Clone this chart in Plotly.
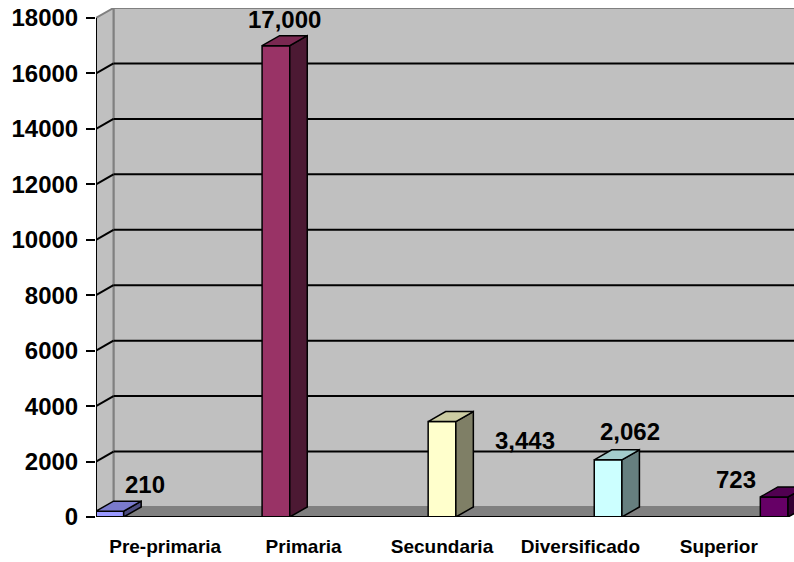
import plotly.graph_objects as go

# ---------------- data ----------------
CATEGORIES = ["Pre-primaria", "Primaria", "Secundaria", "Diversificado", "Superior"]
VALUES = [210, 17000, 3443, 2062, 723]
VALUE_LABELS = ["210", "17,000", "3,443", "2,062", "723"]
Y_TICKS = [0, 2000, 4000, 6000, 8000, 10000, 12000, 14000, 16000, 18000]

# ---------------- styles / layout ----------------
FRONT_COLORS = ["#9999FF", "#993366", "#FFFFCC", "#CCFFFF", "#660066"]
# label offsets (px) relative to the front-top centre of each bar
LABEL_SHIFTS = [(35, 27), (9, 26), (83, -19), (22, 28), (-38, 17)]

W, H = 794, 562
ML, MR, MT, MB = 96, 0, 8, 45
CAT_PX = 138.4          # pixel width of one category
DEPTH_PX = (17.5, 10)   # 3-D depth offset (right, up) in px
FONT = "Liberation Sans, Arial, sans-serif"


def shade(hex_color, f):
    h = hex_color.lstrip("#")
    r, g, b = (int(h[i:i + 2], 16) for i in (0, 2, 4))
    return "#%02X%02X%02X" % (int(r * f), int(g * f), int(b * f))


plot_w = W - ML - MR
plot_h = H - MT - MB
y_top = max(Y_TICKS)
y_range_max = y_top * plot_h / (plot_h - DEPTH_PX[1])
ux = 1.0 / CAT_PX
uy = y_range_max / plot_h
DX = DEPTH_PX[0] * ux
DY = DEPTH_PX[1] * uy
x_min = -0.5
x_max = x_min + plot_w * ux
n = len(CATEGORIES)
slot = 1.0 / n
x_front_end = n - 0.5

fig = go.Figure()

# bar geometry derived from data
lefts = [i - 0.5 + i * slot for i in range(n)]
centers = [l + slot / 2 for l in lefts]

# front faces
fig.add_trace(go.Bar(
    x=centers, y=VALUES, width=slot,
    marker=dict(color=FRONT_COLORS, line=dict(color="black", width=1.5)),
    hoverinfo="skip", showlegend=False,
))

# top and side faces
for i, v in enumerate(VALUES):
    xl, xr = lefts[i], lefts[i] + slot
    c = FRONT_COLORS[i]
    fig.add_trace(go.Scatter(
        x=[xr, xr, xr + DX, xr + DX, xr], y=[0, v, v + DY, DY, 0],
        mode="lines", fill="toself", fillcolor=shade(c, 0.5),
        line=dict(color="black", width=1.5), hoverinfo="skip", showlegend=False,
    ))
    fig.add_trace(go.Scatter(
        x=[xl, xr, xr + DX, xl + DX, xl], y=[v, v, v + DY, v + DY, v],
        mode="lines", fill="toself", fillcolor=shade(c, 0.8),
        line=dict(color="black", width=1.5), hoverinfo="skip", showlegend=False,
    ))

shapes = []
# back wall
shapes.append(dict(type="rect", xref="x", yref="y", x0=x_min + DX, x1=x_max + 1, y0=DY, y1=y_top + DY,
                   fillcolor="#C0C0C0", line=dict(color="#808080", width=2), layer="below"))
# left wall
shapes.append(dict(type="path", xref="x", yref="y",
                   path=f"M {x_min},0 L {x_min},{y_top} L {x_min + DX},{y_top + DY} L {x_min + DX},{DY} Z",
                   fillcolor="#C0C0C0", line=dict(color="#808080", width=2), layer="below"))
# floor
shapes.append(dict(type="path", xref="x", yref="y",
                   path=f"M {x_min},0 L {x_front_end},0 L {x_front_end + DX},{DY} L {x_min + DX},{DY} Z",
                   fillcolor="#808080", line=dict(color="#808080", width=1), layer="below"))
# gridlines on walls
for t in Y_TICKS[1:-1]:
    shapes.append(dict(type="line", xref="x", yref="y", x0=x_min, y0=t, x1=x_min + DX, y1=t + DY,
                       line=dict(color="black", width=2), layer="below"))
    shapes.append(dict(type="line", xref="x", yref="y", x0=x_min + DX, y0=t + DY, x1=x_max + 1, y1=t + DY,
                       line=dict(color="black", width=2), layer="below"))
# front axes lines
shapes.append(dict(type="line", xref="x", yref="y", x0=x_min, y0=0, x1=x_min, y1=y_top,
                   line=dict(color="black", width=2)))
shapes.append(dict(type="line", xref="x", yref="y", x0=x_min, y0=0, x1=x_front_end, y1=0,
                   line=dict(color="black", width=2)))
# category boundary ticks
for k in range(n + 1):
    xb = k - 0.5
    shapes.append(dict(type="line", xref="x", yref="y", xsizemode="scaled", ysizemode="pixel",
                       yanchor=0, x0=xb, x1=xb, y0=0, y1=-10,
                       line=dict(color="black", width=2)))

annotations = []
for i, (v, lab) in enumerate(zip(VALUES, VALUE_LABELS)):
    sx, sy = LABEL_SHIFTS[i]
    annotations.append(dict(x=centers[i], y=v, xref="x", yref="y", text=lab, showarrow=False,
                            xshift=sx, yshift=sy, xanchor="center", yanchor="middle",
                            font=dict(family=FONT, size=24, color="black", weight="bold")))

fig.update_layout(
    width=W, height=H,
    margin=dict(l=ML, r=MR, t=MT, b=MB, pad=0, autoexpand=False),
    paper_bgcolor="white", plot_bgcolor="white",
    shapes=shapes, annotations=annotations,
    showlegend=False, bargap=0,
    xaxis=dict(range=[x_min, x_max], tickvals=list(range(n)), ticktext=CATEGORIES,
               ticks="", showgrid=False, zeroline=False, showline=False, fixedrange=True,
               automargin=False, ticklabelstandoff=16,
               tickfont=dict(family=FONT, size=19, color="black", weight="bold")),
    yaxis=dict(range=[0, y_range_max], tickvals=Y_TICKS, ticktext=[str(t) for t in Y_TICKS],
               ticks="outside", ticklen=9, tickwidth=2, tickcolor="black",
               showgrid=False, zeroline=False, showline=False, fixedrange=True,
               automargin=False, ticklabelstandoff=3, ticklabeloverflow="allow",
               tickfont=dict(family=FONT, size=24, color="black", weight="bold")),
)

fig.write_html(
    "out.html",
    config={"displayModeBar": False, "staticPlot": True},
    post_script="document.body.style.margin='0';document.body.style.overflow='hidden';",
)
